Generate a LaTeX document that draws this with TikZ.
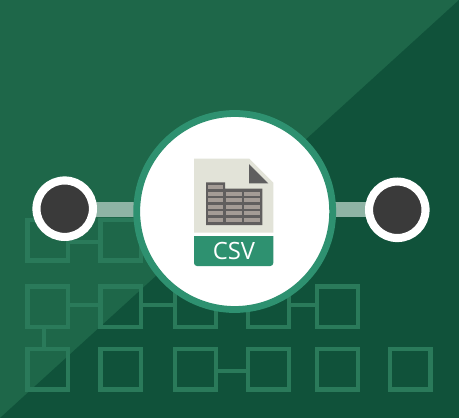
\documentclass[tikz,border=0pt]{standalone}
\usepackage{fontspec}
\setsansfont{Open Sans}
\definecolor{bgLight}{HTML}{1E6749}
\definecolor{bgDark}{HTML}{10523A}
\definecolor{gridGreen}{HTML}{2A7A5A}
\definecolor{ringGreen}{HTML}{2E9170}
\definecolor{barGrey}{HTML}{8FB4A5}
\definecolor{dotDark}{HTML}{3A3A3A}
\definecolor{pageCream}{HTML}{E2E3D8}
\definecolor{foldGrey}{HTML}{5F5F5F}
\definecolor{tableDark}{HTML}{605E5E}
\definecolor{cellGrey}{HTML}{A49C96}
\pgfdeclarelayer{back}
\pgfdeclarelayer{front}
\pgfsetlayers{back,main,front}
\tikzset{
  gridbox/.style={draw=gridGreen,line width=4.4pt,minimum size=40.6pt,inner sep=0pt,fill=none},
  gridlink/.style={draw=gridGreen,line width=4.2pt},
  bigring/.style={circle,draw=ringGreen,fill=white,line width=6.8pt,minimum size=196pt,inner sep=0pt},
  enddot/.style={circle,draw=white,fill=dotDark,line width=8.1pt,minimum size=56.5pt,inner sep=0pt},
  barlink/.style={draw=barGrey,line width=15pt},
  cellbox/.style={fill=cellGrey}
}
\newcommand{\cellrow}[1]{%
  \fill[cellbox] (208,#1) rectangle (223.3,#1+4);
  \fill[cellbox] (226,#1) rectangle (241.7,#1+4);
  \fill[cellbox] (244.3,#1) rectangle (260.3,#1+4);}
\begin{document}
\begin{tikzpicture}[x=1pt,y=-1pt]
\useasboundingbox (0,0) rectangle (459,418);
\begin{pgfonlayer}{back}
\fill[bgLight] (0,0) rectangle (459,418);
\fill[bgDark] (459,0) -- (459,418) -- (0,418) -- cycle;
\end{pgfonlayer}
% grid
\foreach \n/\x/\y in {a1/47.6/240.2,a2/120.6/240.2,
  b1/47.6/306.6,b2/120.6/306.6,b3/195.5/306.6,b4/268.5/306.6,b5/337.5/306.6,
  c1/47.6/369.3,c2/120.6/369.3,c3/195.5/369.3,c4/268.5/369.3,c5/337.5/369.3,c6/410/369.3}
  \node[gridbox] (\n) at (\x,\y) {};
\draw[gridlink] ([yshift=-2.1pt]a1.east) -- ([yshift=-2.1pt]a2.west);
\draw[gridlink] ([yshift=1.6pt]b1.east) -- ([yshift=1.6pt]b2.west);
\draw[gridlink] ([yshift=1.6pt]b2.east) -- ([yshift=1.6pt]b3.west);
\draw[gridlink] ([yshift=1.6pt]b3.east) -- ([yshift=1.6pt]b4.west);
\draw[gridlink] ([yshift=1.6pt]b4.east) -- ([yshift=1.6pt]b5.west);
\draw[gridlink] ([xshift=-3.3pt]b1.south) -- ([xshift=-3.3pt]c1.north);
\draw[gridlink] ([yshift=-1.7pt]c3.east) -- ([yshift=-1.7pt]c4.west);
% circles
\begin{pgfonlayer}{front}
\node[bigring] (big) at (234.7,211.5) {};
\node[enddot] (ldot) at (64.7,208.7) {};
\node[enddot] (rdot) at (397.3,209.8) {};
% document
\fill[pageCream] (194,158.7) -- (249.3,158.7) -- (273.3,182.7) -- (273.3,232.7) -- (194,232.7) -- cycle;
\fill[foldGrey] (249,164) -- (249,183.3) -- (268.3,183.3) -- cycle;
\fill[tableDark] (206,182.3) -- (225,182.3) -- (225,188.7) -- (262.3,188.7) -- (262.3,225) -- (206,225) -- cycle;
\fill[cellbox] (208,185) rectangle (223.3,189);
\cellrow{191.6}
\cellrow{198.2}
\cellrow{204.8}
\cellrow{211.4}
\cellrow{218}
\fill[ringGreen] (194,236) [sharp corners] -- (273.3,236) [rounded corners=3pt] -- (273.3,266) -- (194,266) [sharp corners] -- cycle;
\node[text=white,font=\sffamily\fontsize{23.8}{24}\selectfont,inner sep=0pt] (csv) at (234,251) {CSV};
\end{pgfonlayer}
% bars
\coordinate (barlevel) at (0,209.8);
\draw[barlink] (ldot.center |- barlevel) -- (big.center |- barlevel);
\draw[barlink] (rdot.center |- barlevel) -- (big.center |- barlevel);
\end{tikzpicture}
\end{document}
